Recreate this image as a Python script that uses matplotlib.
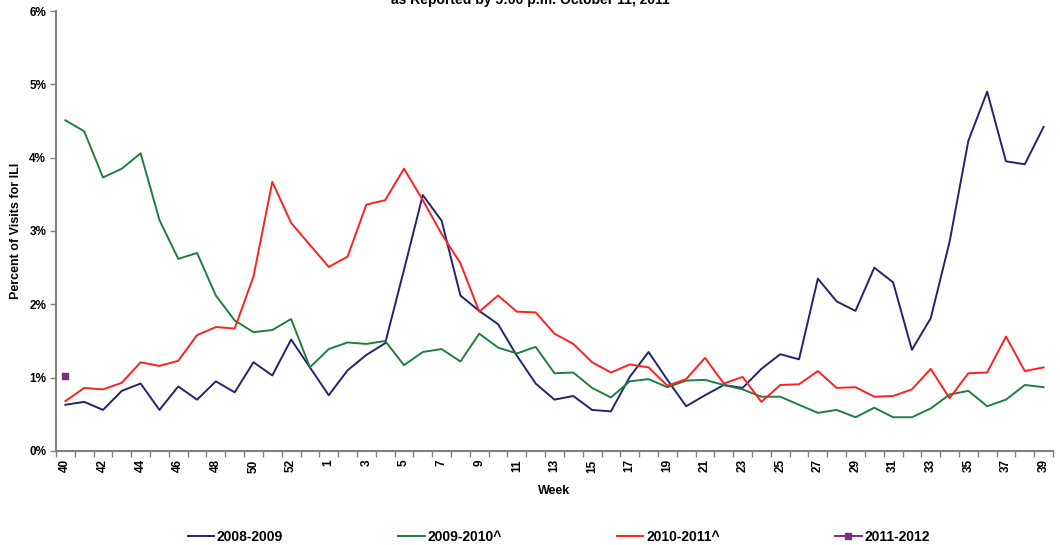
import numpy as np
import matplotlib
matplotlib.use("Agg")
import matplotlib.pyplot as plt
from matplotlib.ticker import FixedLocator, FuncFormatter

plt.rcParams['font.family'] = ['Liberation Sans', 'DejaVu Sans']

# MMWR weeks 40..53, then 1..39
weeks = list(range(40, 54)) + list(range(1, 40))
tick_labels = [str(w) for w in weeks]

s0809 = [0.63, 0.67, 0.56, 0.82, 0.92, 0.56, 0.88, 0.70, 0.95, 0.80,
         1.21, 1.03, 1.52, 1.14, 0.76, 1.10, 1.31, 1.47, 2.47, 3.49,
         3.14, 2.12, 1.91, 1.73, 1.30, 0.92, 0.70, 0.75, 0.56, 0.54,
         1.01, 1.35, 0.97, 0.61, 0.76, 0.90, 0.86, 1.12, 1.32, 1.25,
         2.35, 2.04, 1.91, 2.50, 2.30, 1.38, 1.81, 2.85, 4.23, 4.90,
         3.95, 3.91, 4.42]
s0910 = [4.51, 4.36, 3.73, 3.85, 4.06, 3.15, 2.62, 2.70, 2.12, 1.78,
         1.62, 1.65, 1.80, 1.14, 1.39, 1.48, 1.46, 1.50, 1.17, 1.35,
         1.39, 1.22, 1.60, 1.41, 1.33, 1.42, 1.06, 1.07, 0.86, 0.73,
         0.95, 0.98, 0.87, 0.96, 0.97, 0.90, 0.84, 0.74, 0.74, 0.63,
         0.52, 0.56, 0.46, 0.59, 0.46, 0.46, 0.58, 0.77, 0.82, 0.61,
         0.70, 0.90, 0.87]
s1011 = [0.68, 0.86, 0.84, 0.93, 1.21, 1.16, 1.23, 1.58, 1.69, 1.67,
         2.38, 3.67, 3.11, 2.81, 2.51, 2.65, 3.36, 3.42, 3.85, 3.42,
         2.96, 2.56, 1.90, 2.12, 1.90, 1.89, 1.60, 1.46, 1.21, 1.07,
         1.18, 1.14, 0.89, 0.98, 1.27, 0.92, 1.01, 0.67, 0.90, 0.91,
         1.09, 0.86, 0.87, 0.74, 0.75, 0.84, 1.12, 0.72, 1.06, 1.07,
         1.56, 1.09, 1.14]
s1112 = [1.02]

x = np.arange(len(weeks))

fig = plt.figure(figsize=(10.6, 5.45), dpi=100)
ax = fig.add_axes([0.0528, 0.1725, 0.9406, 0.8073])

ax.plot(x, s0809, color='#232370', lw=1.4, label='2008-2009')
ax.plot(x, s0910, color='#1C8040', lw=1.4, label='2009-2010^')
ax.plot(x, s1011, color='#FF2020', lw=1.4, label='2010-2011^')
ax.plot(x[:len(s1112)], s1112, color='#7B2C83', lw=1.4, marker='s',
        markersize=4, label='2011-2012')

ax.set_xlim(-0.5, len(weeks) - 0.5)
ax.set_ylim(0, 6)
ax.set_yticks(range(0, 7))
ax.yaxis.set_major_formatter(FuncFormatter(lambda v, p: '%d%%' % v))

ax.xaxis.set_major_locator(FixedLocator(x[::2]))
ax.set_xticklabels(tick_labels[::2], rotation=90)
ax.xaxis.set_minor_locator(FixedLocator(np.arange(-0.5, len(weeks), 1)))
ax.tick_params(axis='x', which='major', length=0, pad=6)
ax.tick_params(axis='x', which='minor', length=4, width=1, color='#808080')
ax.tick_params(axis='y', length=4, width=1, color='#808080', pad=3)
for lab in ax.get_xticklabels() + ax.get_yticklabels():
    lab.set_fontsize(8.5)
    lab.set_fontweight('bold')

for s in ['top', 'right']:
    ax.spines[s].set_visible(False)
for s in ['left', 'bottom']:
    ax.spines[s].set_color('#808080')
    ax.spines[s].set_linewidth(1.5)

ax.set_xlabel('Week', fontsize=9, fontweight='bold', labelpad=9)
ax.set_ylabel('Percent of Visits for ILI', fontsize=9, fontweight='bold', labelpad=5)

fig.text(0.5, 1 - 4 / 545, 'as Reported by 5:00 p.m. October 11, 2011',
         ha='center', va='baseline', fontsize=10, fontweight='bold')

fig.legend(loc='center', bbox_to_anchor=(0.527, 0.015), ncol=4, frameon=False,
           prop={'size': 10, 'weight': 'bold'}, handlelength=1.9,
           handletextpad=0.2, columnspacing=8.3)

fig.savefig('out.png', dpi=100)
